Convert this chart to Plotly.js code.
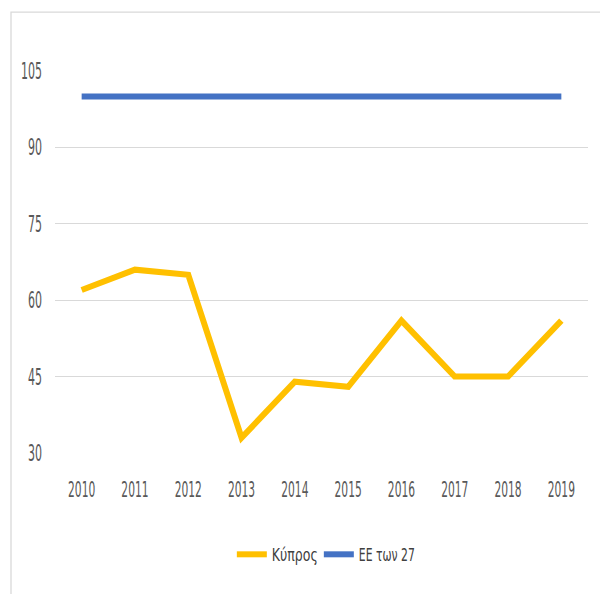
<!DOCTYPE html>
<html>
<head>
<meta charset="utf-8">
<script src="https://cdn.plot.ly/plotly-3.0.1.min.js"></script>
<style>
html,body{margin:0;padding:0;background:#fff;}
#chart{width:600px;height:594px;}
</style>
</head>
<body>
<div id="chart"></div>
<script>
const years = ['2010','2011','2012','2013','2014','2015','2016','2017','2018','2019'];
const cyprus = [62, 66, 65, 33, 44, 43, 56, 45, 45, 56];
const eu27 = [100, 100, 100, 100, 100, 100, 100, 100, 100, 100];
const seriesNames = ['Κύπρος', 'ΕΕ των 27'];
const yTicks = [30, 45, 60, 75, 90, 105];

const FONT = '"DejaVu Sans Condensed", "Liberation Sans Narrow", sans-serif';

const traces = [
  {x: years, y: cyprus, name: seriesNames[0], type: 'scatter', mode: 'lines',
   line: {color: '#FFC000', width: 6}},
  {x: years, y: eu27, name: seriesNames[1], type: 'scatter', mode: 'lines',
   line: {color: '#4472C4', width: 6}}
];

const W = 533, H = 382.3;
const layout = {
  width: 600, height: 594,
  margin: {l: 55, r: 12, t: 71, b: 140.7},
  paper_bgcolor: '#ffffff', plot_bgcolor: '#ffffff',
  font: {family: FONT, color: '#595959', size: 16},
  showlegend: true,
  legend: {orientation: 'h', x: 0.495, xanchor: 'center', y: -0.266, yanchor: 'middle',
           font: {family: FONT, size: 18, color: '#404040'}, itemwidth: 30, tracegroupgap: 0,
           entrywidth: 42},
  xaxis: {type: 'category', range: [-0.5, 9.5], showgrid: false, zeroline: false,
          showline: false, ticks: '', ticklabelstandoff: 21, fixedrange: true, tickangle: 0,
          tickfont: {family: FONT, size: 22, color: '#595959'}},
  yaxis: {range: [30, 105], tickvals: yTicks, showgrid: true, gridcolor: '#d9d9d9', gridwidth: 1.3,
          zeroline: false, showline: false, ticks: '', ticklabelstandoff: 12, fixedrange: true,
          tickfont: {family: FONT, size: 23, color: '#595959'}},
  shapes: [
    {type: 'rect', xref: 'paper', yref: 'paper',
     x0: (11 - 55) / W, x1: 1 + 40 / W,
     y0: -(594 - 453.3 + 20) / H, y1: 1 + (71 - 12) / H,
     line: {color: '#d9d9d9', width: 1.3}, fillcolor: 'rgba(0,0,0,0)', layer: 'below'}
  ]
};

function squeeze(sel, perCharPx) {
  document.querySelectorAll(sel).forEach(t => {
    const n = t.textContent.length;
    t.setAttribute('textLength', perCharPx * n);
    t.setAttribute('lengthAdjust', 'spacingAndGlyphs');
  });
}

Plotly.newPlot('chart', traces, layout, {displayModeBar: false, staticPlot: true}).then(() => {
  squeeze('.xtick text', 6.8);
  squeeze('.ytick text', 7.0);
  const legendWidths = [46, 56];
  document.querySelectorAll('.legendtext').forEach((t, i) => {
    t.setAttribute('textLength', legendWidths[i] || t.getComputedTextLength());
    t.setAttribute('lengthAdjust', 'spacingAndGlyphs');
  });
  document.querySelectorAll('.legend [clip-path]').forEach(el => el.removeAttribute('clip-path'));
});
</script>
</body>
</html>
